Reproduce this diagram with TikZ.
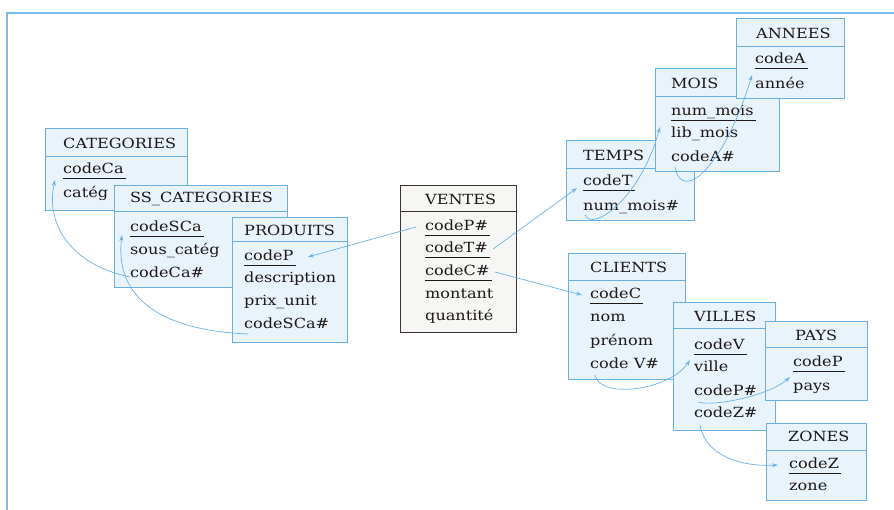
\documentclass[tikz,border=0pt]{standalone}
\usepackage{fontspec}
\setmainfont{DejaVu Serif}[FakeStretch=1.15]
\usetikzlibrary{arrows.meta,calc}

\definecolor{tblue}{HTML}{6AAFE3}
\definecolor{tfill}{HTML}{E8F3FB}
\definecolor{vborder}{HTML}{3E3232}
\definecolor{vfill}{HTML}{F6F6F4}
\definecolor{linkblue}{HTML}{6CB2EA}
\definecolor{framecol}{HTML}{7DBBEB}
\definecolor{ink}{HTML}{1E1818}

% table: name, x1, y1, x2, y2, header line y, title, box style, text x
\newcommand{\drawtable}[9]{%
  \node[#8, inner sep=0pt, outer sep=0pt, anchor=north west,
        minimum width={#4-#2}, minimum height={#5-#3}] (#1) at (#2,#3) {};
  \draw[#8, fill=none] (#2,#6) -- (#4,#6);
  \node[ttl] (#1-t) at (#9,{(#3+#6)/2}) {#7};
}
% underline of a key attribute
\newcommand{\keyline}[1]{\draw[ul] ([yshift=-2pt]#1.south west) -- ([xshift=2pt,yshift=-2pt]#1.south east);}

\begin{document}
\begin{tikzpicture}[x=1pt,y=-1pt,
  tbl/.style={draw=tblue, fill=tfill, line width=1pt},
  fact/.style={draw=vborder, fill=vfill, line width=1pt},
  ttl/.style={font=\fontsize{14}{16}\selectfont, text=ink, anchor=west, inner sep=0pt},
  fld/.style={font=\fontsize{14}{16}\selectfont, text=ink, anchor=west, inner sep=0pt,
              text height=10pt, text depth=3pt},
  ul/.style={draw=ink, line width=1pt},
  fk/.style={draw=linkblue, line width=0.7pt, -{Stealth[length=6pt,width=4pt]}},
  frame/.style={draw=framecol, line width=1.2pt}]

\useasboundingbox (0,0) rectangle (894,510);
\fill[white] (0,0) rectangle (894,510);
\draw[frame] (7,510) -- (7,13) -- (894,13);

% ---- product hierarchy
\drawtable{cat}{45}{129}{187}{211}{157}{CATEGORIES}{tbl}{63}
\node[fld] (cCa) at (63,170) {codeCa}; \keyline{cCa}
\node[fld] (cCat) at (63,194) {catég};

\drawtable{ss}{114}{186}{287}{288}{212}{SS\_CATEGORIES}{tbl}{130}
\node[fld] (sSCa) at (130,228) {codeSCa}; \keyline{sSCa}
\node[fld] (sSous) at (130,251) {sous\_catég};
\node[fld] (sCa) at (130,274) {codeCa\#};

\drawtable{prod}{232}{218}{347}{343}{242}{PRODUITS}{tbl}{244}
\node[fld] (pP) at (244,257) {codeP}; \keyline{pP}
\node[fld] (pDesc) at (244,279) {description};
\node[fld] (pPrix) at (244,302) {prix\_unit};
\node[fld] (pSCa) at (244,325) {codeSCa\#};

% ---- fact table
\drawtable{ventes}{400}{186}{516}{333}{212}{VENTES}{fact}{425}
\node[fld] (vP) at (425,227) {codeP\#}; \keyline{vP}
\node[fld] (vT) at (425,249) {codeT\#}; \keyline{vT}
\node[fld] (vC) at (425,272) {codeC\#}; \keyline{vC}
\node[fld] (vMont) at (425,295) {montant};
\node[fld] (vQte) at (425,317) {quantité};

% ---- time hierarchy
\drawtable{temps}{566}{141}{694}{221}{169}{TEMPS}{tbl}{583}
\node[fld] (tT) at (583,182) {codeT}; \keyline{tT}
\node[fld] (tNm) at (583,207) {num\_mois\#};

\drawtable{mois}{655}{69}{779}{172}{97}{MOIS}{tbl}{671}
\node[fld] (mNm) at (671,112) {num\_mois}; \keyline{mNm}
\node[fld] (mLib) at (671,134) {lib\_mois};
\node[fld] (mA) at (671,158) {codeA\#};

\drawtable{annees}{736}{19}{844}{99}{47}{ANNEES}{tbl}{756}
\node[fld] (aA) at (755,60) {codeA}; \keyline{aA}
\node[fld] (aAn) at (755,85) {année};

% ---- customer hierarchy
\drawtable{clients}{568}{254}{685}{380}{281}{CLIENTS}{tbl}{590}
\node[fld] (cC) at (590,295) {codeC}; \keyline{cC}
\node[fld] (cNom) at (590,318) {nom};
\node[fld] (cPre) at (590,342) {prénom};
\node[fld] (cV) at (590,365) {code V\#};

\drawtable{villes}{673}{303}{775}{430}{329}{VILLES}{tbl}{694}
\node[fld] (viV) at (694,346) {codeV}; \keyline{viV}
\node[fld] (viVille) at (694,368) {ville};
\node[fld] (viP) at (694,392) {codeP\#};
\node[fld] (viZ) at (694,414) {codeZ\#};

\drawtable{pays}{765}{322}{867}{400}{348}{PAYS}{tbl}{795}
\node[fld] (pyP) at (793,363) {codeP}; \keyline{pyP}
\node[fld] (pyPays) at (793,387) {pays};

\drawtable{zones}{766}{423}{866}{500}{450}{ZONES}{tbl}{788}
\node[fld] (zZ) at (789,465) {codeZ}; \keyline{zZ}
\node[fld] (zZone) at (789,487) {zone};

% ---- foreign key links
\draw[fk] ([xshift=-9pt]vP.west) -- ([xshift=14pt]pP.east);
\draw[fk] ([xshift=5pt]vT.east) -- ([xshift=-6pt,yshift=-6pt]tT.west);
\draw[fk] ([xshift=5pt]vC.east) -- ([xshift=-8pt]cC.west);

\draw[fk] ([yshift=-3pt]sCa.west) .. controls +(-58,-12) and +(-10,45) .. ([xshift=-8pt,yshift=-10pt]cCa.west);
\draw[fk] ([xshift=4pt,yshift=-9pt]pSCa.west) .. controls +(-98,-4) and +(-7,55) .. ([xshift=-8pt,yshift=-7pt]sSCa.west);

\draw[fk] ([xshift=2pt,yshift=-8pt]tNm.west) .. controls +(7,17) and +(-20,73) .. ([xshift=-11pt,yshift=-15pt]mNm.west);
\draw[fk] ([xshift=4pt,yshift=-9pt]mA.west) .. controls +(7,38) and +(-27,90) .. ([xshift=-3pt,yshift=-15pt]aA.west);

\draw[fk] ([xshift=5pt,yshift=-10pt]cV.west) .. controls +(5,25) and +(-20,30) .. ([xshift=-4pt,yshift=-14pt]viV.west);
\draw[fk] ([xshift=4pt,yshift=-10pt]viP.west) .. controls +(17,5) and +(-20,18) .. ([xshift=-3pt,yshift=-14pt]pyP.west);
\draw[fk] ([xshift=6pt,yshift=-11pt]viZ.west) .. controls +(5,30) and +(-38,2) .. ([xshift=-11pt]zZ.west);

\end{tikzpicture}
\end{document}
